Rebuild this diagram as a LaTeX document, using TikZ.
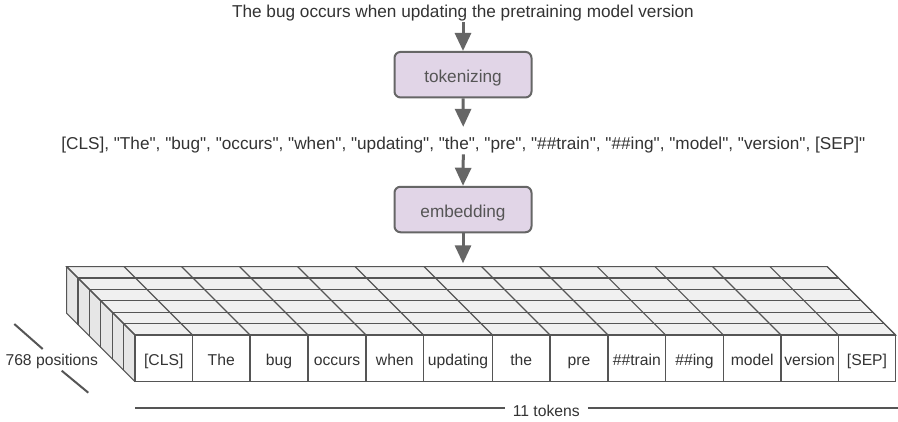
\documentclass[tikz,border=0pt]{standalone}
\usepackage{fontspec}
\setmainfont{Liberation Sans}[Ligatures=TeXOff]
\usetikzlibrary{arrows.meta}
\definecolor{boxfill}{HTML}{E1D5E7}
\definecolor{boxline}{HTML}{666666}
\definecolor{arrowc}{HTML}{666666}
\definecolor{gridc}{HTML}{555555}
\definecolor{topfill}{HTML}{F0F0F0}
\definecolor{sidefill}{HTML}{E6E6E6}
\definecolor{txt}{HTML}{333333}
\definecolor{boxtxt}{HTML}{555555}
\begin{document}
\begin{tikzpicture}[x=1pt,y=-1pt,
  bigtxt/.style={font=\fontsize{17.2}{20}\selectfont, text=txt, inner sep=1pt},
  proc/.style={draw=boxline, line width=2pt, fill=boxfill, rounded corners=6pt,
    minimum width=137pt, minimum height=45.5pt, inner sep=0pt,
    text height=15.2pt, text depth=0pt,
    font=\fontsize{17.2}{20}\selectfont, text=boxtxt},
  arr/.style={draw=arrowc, line width=3pt, -{Triangle[length=18pt,width=16pt]}},
  cell/.style={draw=gridc, line width=1.1pt, fill=white, minimum height=46.7pt,
    inner sep=0pt, text height=13.8pt, text depth=0pt,
    font=\fontsize{15.7}{18}\selectfont, text=txt},
  gridl/.style={draw=gridc, line width=1.1pt},
  diml/.style={draw=gridc, line width=2pt},
  dimtxt/.style={font=\fontsize{15.7}{18}\selectfont, text=txt, inner sep=0pt}]

\useasboundingbox[fill=white] (0,0) rectangle (898,421);

% text flow
\node[bigtxt, anchor=base] (src) at (463,17.5) {The bug occurs when updating the pretraining model version};
\node[proc] (tok) at (463,74.7) {tokenizing};
\node[bigtxt, anchor=base] (toks) at (463.3,149.5) {[CLS], "The", "bug", "occurs", "when", "updating", "the", "pre", "\#\#train", "\#\#ing", "model", "version", [SEP]"};
\node[proc] (emb) at (463,209.5) {embedding};
\coordinate (blocktop) at (463,263.3);

\draw[arr] (src.south) -- (tok.north);
\draw[arr, shorten >=9pt] (tok.south) -- (toks.north);
\draw[arr] (toks.south) -- (emb.north);
\draw[arr] (emb.south) -- (blocktop);

% 3D block faces
\fill[topfill] (135,335) -- (895.7,335) -- (827.3,266.6) -- (66.6,266.6) -- cycle;
\fill[sidefill] (135,335) -- (66.6,266.6) -- (66.6,313.3) -- (135,381.7) -- cycle;
\foreach \k in {1,...,5} {
  \draw[gridl] ({135-11.4*\k},{335-11.4*\k}) -- ({895.7-11.4*\k},{335-11.4*\k});
  \draw[gridl] ({135-11.4*\k},{335-11.4*\k}) -- ({135-11.4*\k},{381.7-11.4*\k});
}
\foreach \x in {135,192.5,250,308,366,423.5,492.5,550,608,665.7,723.3,781,838.3,895.7} {
  \draw[gridl] (\x,335) -- ({\x-68.4},266.6);
}
\draw[gridl] (135,335) -- (895.7,335) -- (827.3,266.6) -- (66.6,266.6) -- cycle;
\draw[gridl] (66.6,266.6) -- (66.6,313.3) -- (135,381.7);

% front cells
\foreach \a/\b/\t [count=\i] in {135/192.5/{[CLS]},192.5/250/{The},250/308/{bug},308/366/{occurs},366/423.5/{when},423.5/492.5/{updating},492.5/550/{the},550/608/{pre},608/665.7/{\#\#train},665.7/723.3/{\#\#ing},723.3/781/{model},781/838.3/{version},838.3/895.7/{[SEP]}} {
  \node[cell, minimum width={\b pt-\a pt}] (c\i) at ({(\a+\b)/2},358.35) {\t};
}

% depth dimension
\node[dimtxt, anchor=base] (depth) at (51.8,365) {768 positions};
\coordinate (d1a) at (14.3,324);
\coordinate (d1b) at (42.7,349);
\coordinate (d2a) at (61.7,370.7);
\coordinate (d2b) at (88.3,392.7);
\draw[diml] (d1a) -- (d1b);
\draw[diml] (d2a) -- (d2b);

% width dimension
\node[dimtxt, anchor=base, inner xsep=8pt] (width) at (546.3,416.5) {11 tokens};
\coordinate (wl) at (135,408.3);
\coordinate (wr) at (898,408.3);
\draw[diml] (wl) -- (wl -| width.west);
\draw[diml] (width.east |- wr) -- (wr);
\end{tikzpicture}
\end{document}
